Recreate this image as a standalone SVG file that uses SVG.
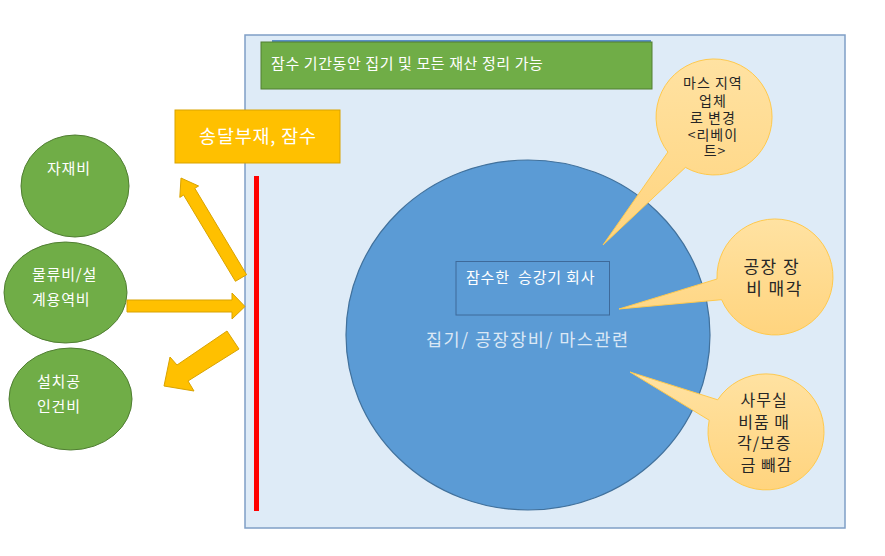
<svg xmlns="http://www.w3.org/2000/svg" width="885" height="556" viewBox="0 0 885 556">
  <defs>
    <linearGradient id="callGrad" x1="0" y1="0" x2="0" y2="1">
      <stop offset="0" stop-color="#ffe2a2"/>
      <stop offset="1" stop-color="#ffd47e"/>
    </linearGradient>
    <style>
      text { font-family: "Noto Sans CJK KR", "Noto Sans", sans-serif; }
      .green { fill: #70ad47; stroke: #507e32; stroke-width: 1; }
      .wtext { fill: #ffffff; font-size: 15px; letter-spacing: 0.8px; }
      .arrow { fill: #ffc000; stroke: #d9a300; stroke-width: 1; }
      .call { fill: url(#callGrad); stroke: #ffc94d; stroke-width: 1; }
      .ctext { fill: #262626; text-anchor: middle; }
    </style>
  </defs>

  <rect width="885" height="556" fill="#ffffff"/>

  <g id="background">
    <rect x="245" y="35" width="600" height="493" fill="#deebf7" stroke="#7f9fc6" stroke-width="1.5"/>
  </g>

  <g id="top-banner">
    <rect x="272" y="40" width="379" height="4" fill="#5b8fc8"/>
    <rect x="261" y="42" width="391" height="47" class="green"/>
    <text x="271" y="69" fill="#ffffff" font-size="15" letter-spacing="0.6">잠수 기간동안 집기 및 모든 재산 정리 가능</text>
  </g>

  <g id="notice-box">
    <rect x="175" y="110" width="165" height="53" fill="#ffc000" stroke="#d9a300" stroke-width="1"/>
    <text x="258" y="143" fill="#ffffff" font-size="18.5" letter-spacing="0.8" text-anchor="middle">송달부재, 잠수</text>
  </g>

  <g id="red-bar">
    <rect x="254" y="176" width="5" height="335" fill="#ff0000"/>
  </g>

  <g id="node-material">
    <ellipse cx="75" cy="186" rx="54" ry="51" class="green"/>
    <text x="47" y="174" class="wtext">자재비</text>
  </g>

  <g id="node-logistics">
    <ellipse cx="65.5" cy="292.5" rx="61.5" ry="50.5" class="green"/>
    <text x="32" y="280" class="wtext">물류비/설</text>
    <text x="32" y="305" class="wtext">계용역비</text>
  </g>

  <g id="node-labor">
    <ellipse cx="70.5" cy="399" rx="61.5" ry="51" class="green"/>
    <text x="37" y="387" class="wtext">설치공</text>
    <text x="37" y="412" class="wtext">인건비</text>
  </g>

  <g id="connectors">
    <polygon class="arrow" points="246.6,274.7 194.8,188.3 198.6,186 181,178 179.8,197.4 183.6,195 235.4,281.3"/>
    <polygon class="arrow" points="127,300 232,300 232,293 245,306.5 232,319 232,312 127,312"/>
    <polygon class="arrow" points="227,331 239,349 188,381 194,391 164,386 170,357 177,365"/>
  </g>

  <g id="main-circle">
    <ellipse cx="528" cy="335" rx="182" ry="175" fill="#5b9bd5" stroke="#41719c" stroke-width="1.2"/>
    <text x="426" y="346" fill="#dbe8f5" font-size="17.5" letter-spacing="1.5">집기/ 공장장비/ 마스관련</text>
  </g>

  <g id="company-box">
    <rect x="456" y="261.5" width="153.5" height="53.5" fill="none" stroke="#3e6a9a" stroke-width="1"/>
    <text x="466" y="283" class="wtext" xml:space="preserve">잠수한  승강기 회사</text>
  </g>

  <g id="callout-mass">
    <path class="call" d="M 667.9 152.1 L 603 245 L 685.4 167.4 A 58 58 0 1 0 667.9 152.1 Z"/>
    <text class="ctext" font-size="14" letter-spacing="1">
      <tspan x="715" y="88">마스 지역</tspan>
      <tspan x="715" y="106">업체</tspan>
      <tspan x="715" y="123">로 변경</tspan>
      <tspan x="715" y="140">&lt;리베이</tspan>
      <tspan x="715" y="156">트&gt;</tspan>
    </text>
  </g>

  <g id="callout-factory">
    <path class="call" d="M 717 279 L 619 309 L 721.6 299.7 A 58 58 0 1 0 717 279 Z"/>
    <text class="ctext" font-size="17" letter-spacing="1.5">
      <tspan x="774.5" y="273">공장 장</tspan>
      <tspan x="774.5" y="295">비 매각</tspan>
    </text>
  </g>

  <g id="callout-office">
    <path class="call" d="M 717.7 399.8 L 630 372 L 709.2 420.2 A 58 58 0 1 0 717.7 399.8 Z"/>
    <text class="ctext" font-size="16" letter-spacing="1">
      <tspan x="766.5" y="406">사무실</tspan>
      <tspan x="766.5" y="428">비품 매</tspan>
      <tspan x="766.5" y="449">각/보증</tspan>
      <tspan x="766.5" y="471">금 빼감</tspan>
    </text>
  </g>
</svg>
